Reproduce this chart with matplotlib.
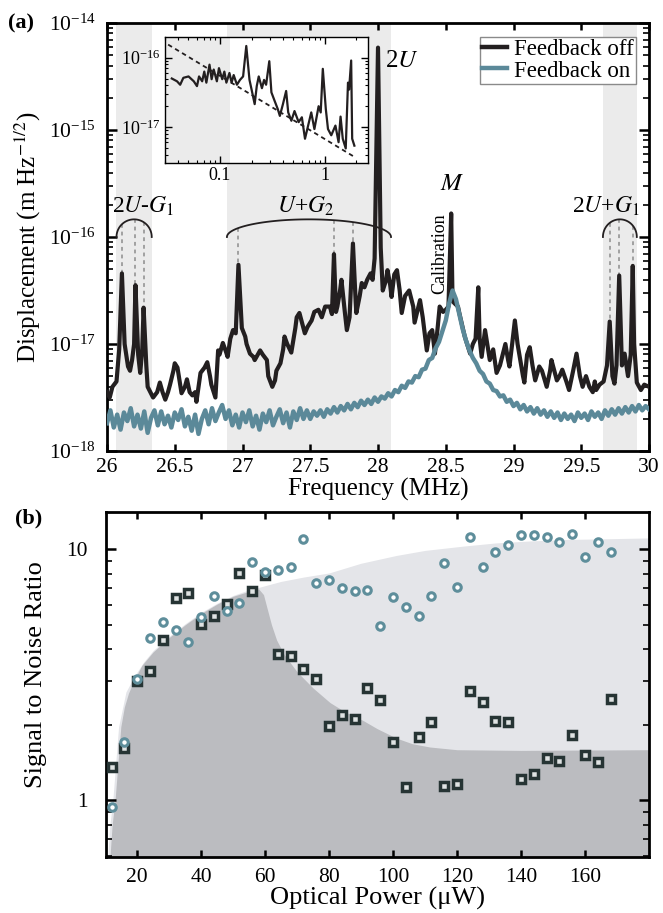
import numpy as np
import matplotlib
matplotlib.use('Agg')
import matplotlib.pyplot as plt
from matplotlib.ticker import LogLocator, NullFormatter, MultipleLocator, FuncFormatter, FixedLocator
from matplotlib.lines import Line2D

plt.rcParams['font.family'] = ['Liberation Serif', 'DejaVu Serif']
plt.rcParams['mathtext.fontset'] = 'stix'

# ---- panel (a): displacement spectrum, log10 values ----
# feedback off, background (freq MHz, log10 m/sqrt(Hz))
off_pts = [
    (26.00, -17.45), (26.02, -17.50), (26.04, -17.40), (26.07, -17.35), (26.09, -17.05),
    (26.13, -17.00), (26.155, -17.21), (26.17, -17.25), (26.185, -17.15), (26.20, -17.00),
    (26.23, -17.10), (26.245, -17.27), (26.26, -17.05), (26.29, -17.20), (26.30, -17.40),
    (26.32, -17.45), (26.34, -17.50), (26.37, -17.45), (26.39, -17.36), (26.41, -17.45),
    (26.43, -17.52), (26.45, -17.45), (26.465, -17.38), (26.49, -17.25), (26.50, -17.18),
    (26.52, -17.22), (26.55, -17.46), (26.575, -17.40), (26.59, -17.33), (26.61, -17.45),
    (26.63, -17.48), (26.65, -17.45), (26.66, -17.54), (26.69, -17.27), (26.72, -17.22),
    (26.74, -17.17), (26.76, -17.30), (26.77, -17.38), (26.80, -17.50), (26.82, -17.06),
    (26.83, -17.10), (26.855, -16.99), (26.88, -17.08), (26.89, -17.12), (26.91, -16.95),
    (26.93, -16.87), (26.95, -16.90), (26.995, -16.85), (27.02, -16.93), (27.03, -17.00),
    (27.055, -17.09), (27.08, -17.12), (27.09, -17.15), (27.13, -17.06), (27.15, -17.10),
    (27.18, -17.15), (27.19, -17.30), (27.22, -17.40), (27.24, -17.34), (27.25, -17.25),
    (27.28, -17.18), (27.30, -17.05), (27.31, -16.93), (27.33, -17.00), (27.36, -17.08),
    (27.39, -16.85), (27.40, -16.75), (27.42, -16.71), (27.45, -16.85), (27.46, -16.90),
    (27.48, -16.84), (27.51, -16.78), (27.53, -16.70), (27.56, -16.68), (27.585, -16.75),
    (27.61, -16.65), (27.645, -16.65), (27.66, -16.72), (27.69, -16.70), (27.70, -16.65),
    (27.72, -16.50), (27.73, -16.40), (27.755, -16.70), (27.77, -16.87), (27.79, -16.75),
    (27.835, -16.60), (27.84, -16.71), (27.865, -16.55), (27.88, -16.43), (27.90, -16.47),
    (27.92, -16.40), (27.945, -16.34), (27.96, -16.40), (27.975, -16.20), (28.02, -16.10),
    (28.035, -16.50), (28.06, -16.40), (28.07, -16.31), (28.09, -16.45), (28.10, -16.56),
    (28.12, -16.35), (28.14, -16.31), (28.16, -16.50), (28.175, -16.71), (28.20, -16.55),
    (28.23, -16.50), (28.26, -16.65), (28.27, -16.80), (28.31, -16.59), (28.33, -16.75),
    (28.36, -17.06), (28.38, -16.90), (28.40, -16.87), (28.42, -17.09), (28.44, -16.85),
    (28.455, -16.65), (28.48, -16.70), (28.50, -16.68), (28.52, -16.65), (28.55, -16.60),
    (28.565, -16.62), (28.59, -16.65), (28.60, -16.71), (28.625, -16.85), (28.64, -16.93),
    (28.68, -17.09), (28.70, -17.00), (28.72, -16.95), (28.75, -16.95), (28.765, -17.12),
    (28.79, -16.87), (28.80, -16.95), (28.825, -17.15), (28.85, -17.05), (28.875, -17.27),
    (28.90, -17.20), (28.92, -17.10), (28.94, -17.00), (28.96, -17.15), (28.97, -17.21),
    (28.99, -17.00), (29.01, -16.78), (29.03, -17.00), (29.05, -17.15), (29.07, -17.30),
    (29.08, -17.36), (29.10, -17.10), (29.12, -17.03), (29.14, -17.20), (29.16, -17.34),
    (29.19, -17.21), (29.21, -17.25), (29.245, -17.40), (29.27, -17.25), (29.28, -17.15),
    (29.32, -17.34), (29.34, -17.30), (29.36, -17.24), (29.39, -17.35), (29.41, -17.43),
    (29.44, -17.25), (29.465, -17.09), (29.49, -17.30), (29.51, -17.40), (29.535, -17.30),
    (29.56, -17.40), (29.585, -17.45), (29.60, -17.35), (29.61, -17.43), (29.635, -17.38),
    (29.665, -17.35), (29.69, -17.20), (29.73, -17.30), (29.745, -17.37), (29.76, -17.20),
    (29.80, -17.20), (29.82, -17.09), (29.845, -17.30), (29.865, -17.10), (29.89, -17.00),
    (29.91, -17.36), (29.94, -17.43), (29.965, -17.38), (30.00, -17.40),
]

# sideband peaks marked with dashed guides
sat_f = [26.11, 26.21, 26.27, 26.97, 27.675, 27.815, 29.71, 29.78, 29.88]
sat_log = [-16.34, -16.45, -16.66, -16.26, -16.16, -16.06, -16.79, -16.36, -16.27]
# other sharp peaks: 2U, calibration (M), extra line
other_f = [28.00, 28.54, 28.74]
other_log = [-14.23, -15.78, -16.47]

# feedback on, uniform grid 26..30 MHz
on_log = [
    -17.74, -17.62, -17.78, -17.66, -17.80, -17.64, -17.72, -17.60, -17.77, -17.66,
    -17.79, -17.63, -17.83, -17.69, -17.62, -17.76, -17.63, -17.75, -17.67, -17.78,
    -17.64, -17.71, -17.61, -17.77, -17.68, -17.81, -17.66, -17.84, -17.70, -17.62,
    -17.75, -17.60, -17.72, -17.64, -17.57, -17.70, -17.62, -17.76, -17.66, -17.78,
    -17.64, -17.73, -17.62, -17.77, -17.67, -17.80, -17.65, -17.73, -17.62, -17.76,
    -17.68, -17.61, -17.74, -17.64, -17.78, -17.63, -17.71, -17.60, -17.70, -17.62,
    -17.70, -17.63, -17.67, -17.62, -17.68, -17.61, -17.65, -17.59, -17.64, -17.58,
    -17.62, -17.56, -17.61, -17.55, -17.59, -17.53, -17.57, -17.52, -17.56, -17.50,
    -17.54, -17.49, -17.51, -17.46, -17.49, -17.43, -17.45, -17.39, -17.41, -17.35,
    -17.36, -17.30, -17.31, -17.24, -17.23, -17.15, -17.13, -17.04, -16.98, -16.88,
    -16.78, -16.62, -16.50, -16.58, -16.72, -16.86, -16.97, -17.06, -17.13, -17.18,
    -17.25, -17.28, -17.35, -17.37, -17.43, -17.44, -17.49, -17.48, -17.54, -17.52,
    -17.58, -17.55, -17.61, -17.57, -17.63, -17.59, -17.65, -17.60, -17.66, -17.62,
    -17.68, -17.63, -17.69, -17.64, -17.71, -17.65, -17.70, -17.66, -17.72, -17.64,
    -17.69, -17.65, -17.71, -17.63, -17.68, -17.64, -17.70, -17.62, -17.67, -17.61,
    -17.66, -17.60, -17.65, -17.59, -17.64, -17.58, -17.63, -17.57, -17.62, -17.58,
    -17.61,
]

band_lo = [26.07, 26.885, 29.66]
band_hi = [26.33, 28.096, 29.91]

# inset: low-frequency spectrum (MHz, log10)
ins_f = [0.0347, 0.0389, 0.0417, 0.0447, 0.0501, 0.0562, 0.0603, 0.0631, 0.0676, 0.0708,
         0.0741, 0.0794, 0.0832, 0.0871, 0.0933, 0.0977, 0.105, 0.110, 0.115, 0.123,
         0.129, 0.135, 0.145, 0.155, 0.166, 0.178, 0.191, 0.200, 0.214, 0.224,
         0.234, 0.251, 0.263, 0.275, 0.295, 0.309, 0.331, 0.355, 0.372, 0.398,
         0.427, 0.447, 0.479, 0.513, 0.562, 0.603, 0.646, 0.692, 0.741, 0.794,
         0.871, 0.912, 0.955, 1.02, 1.07, 1.15, 1.26, 1.35, 1.41, 1.48,
         1.58, 1.66, 1.70, 1.78, 1.82, 1.91]
ins_log = [-16.30, -16.34, -16.39, -16.29, -16.27, -16.34, -16.41, -16.27, -16.34, -16.20,
           -16.36, -16.10, -16.31, -16.17, -16.34, -16.15, -16.31, -16.20, -16.36, -16.22,
           -16.36, -16.25, -16.39, -16.32, -16.27, -15.83, -16.32, -16.46, -16.67, -16.41,
           -16.27, -16.44, -16.32, -16.39, -16.05, -16.50, -16.62, -16.74, -16.84, -16.67,
           -16.48, -16.79, -16.91, -16.77, -16.93, -16.86, -17.17, -16.98, -16.79, -17.03,
           -16.70, -16.79, -16.16, -16.74, -17.03, -17.12, -16.98, -17.22, -16.85, -17.17,
           -17.31, -16.36, -16.46, -16.04, -17.17, -17.27]
ins_fit_f = [0.032, 1.9]
ins_fit_log = [-15.81, -17.43]
ins_band_hi = 0.124

# ---- panel (b): SNR vs optical power ----
power = [12, 16, 20, 24, 28, 32, 36, 40, 44, 48, 52, 56, 60, 64, 68, 72, 76, 80, 84, 88,
         92, 96, 100, 104, 108, 112, 116, 120, 124, 128, 132, 136, 140, 144, 148, 152,
         156, 160, 164, 168]
snr_off = [1.36, 1.61, 3.0, 3.27, 4.37, 6.38, 6.7, 5.06, 5.42, 6.04, 8.02, 6.8, 7.9, 3.84,
           3.75, 3.33, 3.03, 1.97, 2.19, 2.10, 2.81, 2.52, 1.70, 1.13, 1.79, 2.05, 1.14,
           1.16, 2.72, 2.47, 2.06, 2.05, 1.22, 1.27, 1.48, 1.43, 1.82, 1.51, 1.42, 2.54]
snr_on = [0.94, 1.71, 3.03, 4.42, 5.13, 4.76, 4.29, 5.37, 6.54, 5.68, 6.13, 8.88, 8.12, 8.3,
          8.48, 11.0, 7.34, 7.52, 7.01, 6.82, 6.91, 4.95, 6.45, 5.89, 5.42, 6.50, 8.80,
          7.06, 11.2, 8.5, 9.76, 10.4, 11.4, 11.4, 11.2, 10.7, 11.5, 9.3, 10.7, 9.8]

light_x = [10.8, 11.5, 12.4, 14.2, 16.5, 19, 22, 25, 30, 35, 40, 45, 50, 55, 58, 65, 72,
           80, 90, 101, 110, 122, 132, 143, 155, 164, 180]
light_y = [0.59, 0.8, 1.0, 1.96, 2.7, 3.1, 3.55, 3.95, 4.5, 5.05, 5.6, 6.1, 6.55, 6.9,
           7.05, 7.45, 7.75, 8.05, 8.8, 9.45, 9.9, 10.3, 10.6, 10.8, 10.95, 11.0, 11.1]
dark_x = [11.5, 12.2, 13.1, 14.0, 14.9, 16.0, 17.3, 19.0, 21.5, 25, 30, 35, 40, 45, 50,
          55, 58, 59.5, 60.5, 62, 63.6, 66, 70, 75, 80.3, 85, 90.6, 95, 101, 106, 111.5,
          120, 140, 180]
dark_y = [0.59, 0.8, 1.0, 1.4, 1.96, 2.35, 2.67, 3.0, 3.45, 3.9, 4.45, 5.0, 5.55, 6.05,
          6.5, 6.8, 6.95, 6.6, 5.9, 5.0, 4.35, 3.8, 3.25, 2.8, 2.45, 2.25, 2.08, 1.93,
          1.77, 1.68, 1.63, 1.59, 1.58, 1.59]

black = '#231f20'
teal = '#5b8999'


def style_axis(a, lw=2.0):
    for s in a.spines.values():
        s.set_linewidth(lw)
    a.tick_params(which='both', direction='in', top=True, right=True)
    a.tick_params(which='major', length=7, width=1.8)
    a.tick_params(which='minor', length=4, width=1.2)


fig = plt.figure(figsize=(6.63, 9.13), dpi=100)

# ================= (a) =================
ax = fig.add_axes([0.1614, 0.506, 0.8175, 0.4688])
for lo, hi in zip(band_lo, band_hi):
    ax.axvspan(lo, hi, color='#ebebeb', lw=0, zorder=0)

off_f, off_l = np.array(off_pts).T
f_all = np.concatenate([off_f, sat_f, other_f])
l_all = np.concatenate([off_l, sat_log, other_log])
order = np.argsort(f_all)
ax.plot(f_all[order], 10 ** l_all[order], color=black, lw=3.0, zorder=3)
on_f = np.linspace(26, 30, len(on_log))
ax.plot(on_f, 10 ** np.array(on_log), color=teal, lw=3.2, zorder=4)

# brackets over sideband groups
arc_base, arc_h = -16.0, 0.165
t = np.linspace(0, np.pi, 80)
for lo, hi in zip(band_lo, band_hi):
    c, a = (lo + hi) / 2, (hi - lo) / 2
    ax.plot(c + a * np.cos(t), 10 ** (arc_base + arc_h * np.sin(t)), color=black, lw=1.3, zorder=5)
for f, lv in zip(sat_f, sat_log):
    for lo, hi in zip(band_lo, band_hi):
        if lo <= f <= hi:
            c, a = (lo + hi) / 2, (hi - lo) / 2
            top = arc_base + arc_h * np.sqrt(1 - ((f - c) / a) ** 2)
            ax.plot([f, f], [10 ** top, 10 ** lv], color='#8c8c8c', lw=1.1,
                    ls=(0, (2.5, 2.5)), zorder=2)

ax.set_yscale('log')
ax.set_xlim(26, 30)
ax.set_ylim(1e-18, 1e-14)
ax.xaxis.set_major_locator(MultipleLocator(0.5))
ax.xaxis.set_major_formatter(FuncFormatter(lambda v, p: '%g' % v))
ax.yaxis.set_major_locator(LogLocator(base=10, numticks=10))
ax.yaxis.set_minor_locator(LogLocator(base=10, subs=np.arange(2, 10), numticks=20))
ax.yaxis.set_minor_formatter(NullFormatter())
style_axis(ax)
ax.tick_params(axis='x', which='major', length=5, labelsize=15.5, pad=5)
ax.tick_params(axis='y', labelsize=15.5, pad=8)
ax.set_xlabel('Frequency (MHz)', fontsize=18, labelpad=1)
ax.set_ylabel('Displacement (m Hz$^{-1/2}$)', fontsize=18)
ax.yaxis.set_label_coords(-0.118, 0.5)

lab_y = 10 ** -15.776
ax.text(26.035, lab_y, '2$U$-$G_1$', fontsize=17, va='baseline')
ax.text(27.254, lab_y, '$U$+$G_2$', fontsize=17, va='baseline')
ax.text(29.43, lab_y, '2$U$+$G_1$', fontsize=17, va='baseline')
ax.text(28.05, 10 ** -14.41, '2$U$', fontsize=18, va='baseline')
ax.text(28.456, 10 ** -15.56, '$M$', fontsize=18, va='baseline')
ax.text(28.452, 10 ** -16.16, 'Calibration', fontsize=13, rotation=90, ha='center', va='center')

handles = [Line2D([], [], color=black, lw=3.2), Line2D([], [], color=teal, lw=3.2)]
leg = ax.legend(handles, ['Feedback off', 'Feedback on'], loc='upper right',
                bbox_to_anchor=(0.976, 0.967), borderaxespad=0, fontsize=16.5,
                fancybox=False, framealpha=1, edgecolor='#8a8a8a', handlelength=1.1,
                handletextpad=0.3, labelspacing=0.0, borderpad=0.1)
leg.get_frame().set_linewidth(1.0)

fig.text(0.012, 0.969, '(a)', fontsize=16, fontweight='bold', va='baseline')

# inset
ix = fig.add_axes([0.2489, 0.8215, 0.306, 0.138])
ix.axvspan(0.01, ins_band_hi, color='#ebebeb', lw=0, zorder=0)
ix.plot(ins_f, 10 ** np.array(ins_log), color=black, lw=1.6, zorder=3)
ix.plot(ins_fit_f, 10 ** np.array(ins_fit_log), color=black, lw=1.3, ls=(0, (2.5, 2)), zorder=2)
ix.set_xscale('log')
ix.set_yscale('log')
ix.set_xlim(0.0299, 2.57)
ix.set_ylim(10 ** -17.52, 10 ** -15.70)
ix.xaxis.set_major_locator(FixedLocator([0.1, 1]))
ix.xaxis.set_major_formatter(FuncFormatter(lambda v, p: '%g' % v))
ix.xaxis.set_minor_locator(LogLocator(base=10, subs=np.arange(2, 10), numticks=20))
ix.xaxis.set_minor_formatter(NullFormatter())
ix.yaxis.set_major_locator(FixedLocator([1e-16, 1e-17]))
ix.yaxis.set_minor_locator(LogLocator(base=10, subs=np.arange(2, 10), numticks=20))
ix.yaxis.set_minor_formatter(NullFormatter())
for s in ix.spines.values():
    s.set_linewidth(1.0)
ix.tick_params(which='both', direction='in', top=True, right=True, labelsize=13)
ix.tick_params(which='major', length=5, width=1.0, pad=3)
ix.tick_params(which='minor', length=2.5, width=0.8)

# ================= (b) =================
bx = fig.add_axes([0.16, 0.0613, 0.8189, 0.3779])
bx.fill_between(light_x, 0.5, light_y, color='#e4e5e9', lw=0, zorder=0)
bx.fill_between(dark_x, 0.5, dark_y, color='#bbbcc0', lw=0, zorder=1)
bx.plot(power, snr_off, 's', ms=5.2, mew=2.5, mfc='#dfe3e3', mec='#263434', zorder=3)
bx.plot(power, snr_on, 'o', ms=5.4, mew=2.2, mfc='white', mec='#5e8e9b', zorder=4)
bx.set_yscale('log')
bx.set_xlim(10.3, 180)
bx.set_ylim(0.594, 14.08)
bx.xaxis.set_major_locator(FixedLocator([20, 40, 60, 80, 100, 120, 140, 160]))
bx.yaxis.set_major_locator(FixedLocator([1, 10]))
bx.yaxis.set_major_formatter(FuncFormatter(lambda v, p: '%g' % v))
bx.yaxis.set_minor_locator(LogLocator(base=10, subs=np.arange(2, 10), numticks=20))
bx.yaxis.set_minor_formatter(NullFormatter())
style_axis(bx)
bx.tick_params(axis='x', which='major', length=5, labelsize=15.5, pad=8)
bx.tick_params(axis='y', labelsize=15.5, pad=13)
bx.set_xlabel('Optical Power (\u03bcW)', fontsize=19, labelpad=0)
bx.set_ylabel('Signal to Noise Ratio', fontsize=19)
bx.yaxis.set_label_coords(-0.108, 0.53)

fig.text(0.022, 0.427, '(b)', fontsize=16, fontweight='bold', va='baseline')

fig.savefig('out.png', dpi=100)
